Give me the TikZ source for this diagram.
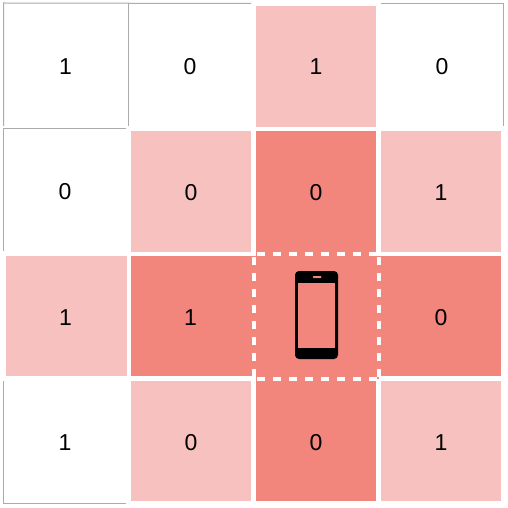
\documentclass[tikz,border=0pt]{standalone}
\usepackage{fontspec}
\setmainfont{Liberation Sans}
\definecolor{lightcell}{HTML}{F7C1BF}
\definecolor{darkcell}{HTML}{F2857C}
\definecolor{gridgrey}{HTML}{ABABAB}
\tikzset{
  lightfill/.style={fill=lightcell,draw=none},
  darkfill/.style={fill=darkcell,draw=none},
  gridline/.style={draw=gridgrey,line width=1bp},
  dashline/.style={draw=white,line width=4bp,dash pattern=on 8bp off 8bp},
  digit/.style={font=\fontsize{23bp}{25bp}\selectfont,text=black,inner sep=0pt}
}
\begin{document}
\begin{tikzpicture}[x=1bp,y=-1bp]
\useasboundingbox (0,0) rectangle (508,508);
\fill[white] (0,0) rectangle (508,508);
% light cells
\path[lightfill] (256,6) rectangle (376,127);
\path[lightfill] (131,131) rectangle (251,252);
\path[lightfill] (381,131) rectangle (501,252);
\path[lightfill] (6,256) rectangle (127,376);
\path[lightfill] (131,381) rectangle (251,501);
\path[lightfill] (381,381) rectangle (501,501);
% dark cross
\path[darkfill] (256,131) rectangle (376,501);
\path[darkfill] (131,256) rectangle (501,376);
\path[darkfill] (376,376) rectangle (379,379);
% grey outlines
\draw[gridline] (3.5,126) -- (3.5,3) -- (251,3.5);
\draw[gridline] (128.5,3) -- (128.5,126);
\draw[gridline] (3,128.5) -- (126,128.5);
\draw[gridline] (3.5,128) -- (3.5,250.5);
\draw[gridline] (381,3.5) -- (503.5,3.5) -- (503.5,126);
\draw[gridline] (3.5,381) -- (3.5,503.5) -- (126,503.5);
% dashed square
\draw[dashline] (257,254) -- (377,254);
\draw[dashline] (257,379) -- (377,379);
\draw[dashline] (254,257) -- (254,377);
\draw[dashline] (379,257) -- (379,377);
% phone
\fill[black,rounded corners=4bp] (295,271) rectangle (338,359);
\fill[darkcell] (298,282.7) rectangle (335,348);
\fill[darkcell,rounded corners=0.8bp] (312.7,276) rectangle (321.3,278);
% digits
\node[digit] (r0c0) at (65.5,67) {1};
\node[digit] (r0c1) at (190,67) {0};
\node[digit] (r0c2) at (316,67) {1};
\node[digit] (r0c3) at (442,67) {0};
\node[digit] (r1c0) at (65,192) {0};
\node[digit] (r1c1) at (191,192.5) {0};
\node[digit] (r1c2) at (316,192.5) {0};
\node[digit] (r1c3) at (441,192.5) {1};
\node[digit] (r2c0) at (65.5,317.5) {1};
\node[digit] (r2c1) at (190.5,317.5) {1};
\node[digit] (r2c3) at (441,317.5) {0};
\node[digit] (r3c0) at (65,443) {1};
\node[digit] (r3c1) at (191,443) {0};
\node[digit] (r3c2) at (316,443) {0};
\node[digit] (r3c3) at (441,443) {1};
\end{tikzpicture}
\end{document}
